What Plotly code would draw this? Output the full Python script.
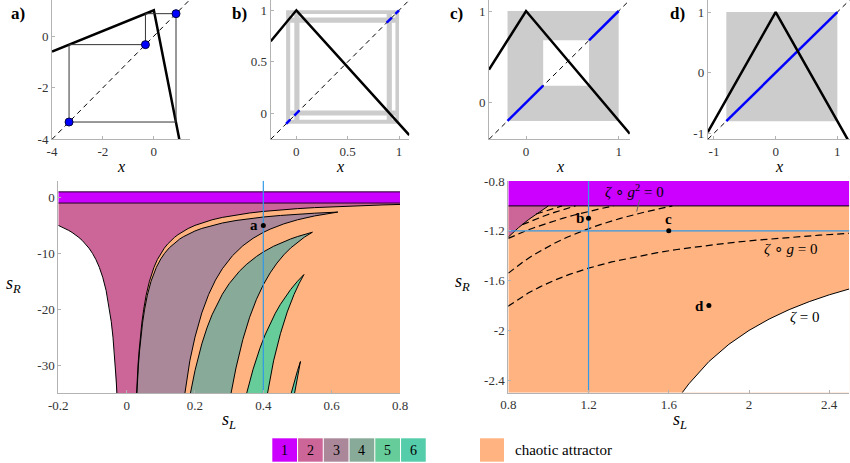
import plotly.graph_objects as go

SERIF = "Liberation Serif, Times New Roman, serif"
C_REG = ['#cc00ff', '#cc6699', '#aa8899', '#88aa99', '#66cc99', '#55ccaa']
C_CHAOS = '#ffb380'
C_GRAY = '#cccccc'
C_BLUE = '#0000ff'
C_LBLUE = '#3399e6'
AXC = '#b3b3b3'

# ---------------- top panels: maps ----------------
a_range = [-4, 1.4]
a_map_x = [-4, 0, 1.0]
a_map_y = [-0.6, 1.0, -4.0]
a_orbit = [-3.33, -0.33, 0.87]
a_ticks = [-4, -2, 0]

b_range = [-0.25, 1.1]
b_map_x = [-0.25, 0, 1.1]
b_map_y = [0.7, 1.0, -0.21]
b_bands = [[-0.10, -0.06], [-0.02, 0.03], [0.88, 0.93], [0.965, 1.0]]
b_ticks = [0, 0.5, 1]

c_range = [-0.4, 1.12]
c_map_x = [-0.4, 0, 1.12]
c_map_y = [0.36, 1.0, -0.34]
c_bands = [[-0.2, 0.185], [0.68, 1.0]]
c_ticks = [0, 1]

d_range = [-1.1, 1.2]
d_map_x = [-1.1, 0, 1.2]
d_map_y = [-0.98, 1.0, -1.16]
d_bands = [[-0.8, 1.0]]
d_ticks = [-1, 0, 1]

# ---------------- bottom-left: regions in (s_L, s_R) ----------------
L_xrange = [-0.2, 0.8]
L_yrange = [-35, 3]
L_xticks = [-0.2, 0, 0.2, 0.4, 0.6, 0.8]
L_yticks = [-30, -20, -10, 0]

W_sL = [-0.2, -0.19, -0.18, -0.17, -0.16, -0.15, -0.14, -0.13, -0.12, -0.11, -0.10, -0.09, -0.08,
        -0.07, -0.06, -0.05, -0.045, -0.04, -0.036, -0.0333, -0.0308, -0.0286, -0.025]
W_sR = [-5, -5.263, -5.556, -5.882, -6.25, -6.667, -7.143, -7.692, -8.333, -9.091, -10, -11.11, -12.5,
        -14.29, -16.67, -20, -22.22, -25, -27.78, -30, -32.5, -35, -40]

C2_sL = [0.025, 0.0286, 0.0308, 0.0333, 0.0364, 0.04, 0.0444, 0.05, 0.0571, 0.0667, 0.08, 0.09, 0.1,
         0.11, 0.12, 0.13, 0.14, 0.15, 0.165, 0.18, 0.2, 0.22, 0.25, 0.28, 0.32, 0.36, 0.4, 0.45,
         0.5, 0.55, 0.6, 0.65, 0.7, 0.75, 0.8]
C2_sR = [-40, -35, -32.5, -30, -27.5, -25, -22.5, -20, -17.5, -15, -12.5, -11.11, -10,
         -9.091, -8.333, -7.692, -7.143, -6.667, -6.061, -5.556, -5, -4.545, -4, -3.571, -3.125, -2.778, -2.5, -2.222,
         -2, -1.818, -1.667, -1.538, -1.429, -1.333, -1.25]

U3_sL = [0.0256, 0.0294, 0.0317, 0.0345, 0.0377, 0.0417, 0.0465, 0.0526, 0.0606, 0.0714, 0.087, 0.1, 0.111,
         0.125, 0.143, 0.155, 0.167, 0.18, 0.2, 0.22, 0.25, 0.28, 0.32, 0.36, 0.4, 0.45, 0.5, 0.55, 0.618]
U3_sR = [-40, -35, -32.5, -30, -27.5, -25, -22.5, -20, -17.5, -15, -12.5, -11, -10,
         -9, -8, -7.452, -7, -6.556, -6, -5.545, -5, -4.571, -4.125, -3.778, -3.5, -3.222, -3, -2.818, -2.618]
L3_sL = [0.618, 0.58, 0.55, 0.5, 0.46, 0.42, 0.4, 0.37, 0.34, 0.31, 0.28, 0.26, 0.24, 0.22, 0.2, 0.185, 0.169, 0.158]
L3_sR = [-2.618, -2.973, -3.306, -4, -4.726, -5.669, -6.25, -7.305, -8.651, -10.41, -12.76, -14.79, -17.36,
         -20.66, -25, -29.22, -35.01, -40.06]

U4_sL = [0.175, 0.1868, 0.2, 0.21, 0.22, 0.235, 0.25, 0.28, 0.3, 0.33, 0.35, 0.38, 0.4, 0.43, 0.45, 0.48, 0.5, 0.52, 0.5437]
U4_sR = [-39.37, -35, -31, -28.44, -26.21, -23.36, -21, -17.33, -15.44, -13.21, -12.02, -10.56, -9.75, -8.734,
         -8.16, -7.424, -7.0, -6.621, -6.22]
L4_sL = [0.5437, 0.52, 0.5, 0.48, 0.46, 0.44, 0.42, 0.4, 0.38, 0.36, 0.34, 0.32, 0.3057, 0.295, 0.29]
L4_sR = [-6.22, -7.112, -8, -9.042, -10.27, -11.74, -13.5, -15.63, -18.22, -21.43, -25.44, -30.52, -35.0, -38.95, -41.0]

U5_sL = [0.34, 0.351, 0.37, 0.39, 0.405, 0.42, 0.435, 0.45, 0.465, 0.48, 0.5, 0.5188]
U5_sR = [-38.03, -35.1, -30.75, -27.0, -24.62, -22.55, -20.73, -19.13, -17.72, -16.47, -15.0, -13.8]
L5_sL = [0.5188, 0.505, 0.49, 0.47, 0.45, 0.43, 0.411, 0.4]
L5_sR = [-13.8, -15.37, -17.35, -20.49, -24.39, -29.25, -35.05, -39.06]

U6_sL = [0.475, 0.481, 0.49, 0.5, 0.5087]
U6_sR = [-36.51, -35.07, -33.05, -31, -29.36]
L6_sL = [0.5087, 0.5, 0.491, 0.487]
L6_sR = [-29.35, -32, -35.06, -36.5]

pt_a = [0.4, -5]

# ---------------- bottom-right ----------------
R_xrange = [0.8, 2.5]
R_yrange = [-2.5, -0.8]
R_xticks = [0.8, 1.2, 1.6, 2, 2.4]
R_yticks = [-2.4, -2, -1.6, -1.2, -0.8]

C2r_sL = [1.0, 0.95, 0.9, 0.85, 0.8]
C2r_sR = [-1.0, -1.053, -1.111, -1.176, -1.25]

Z0_sL = [1.667, 1.7, 1.8, 1.9, 2.0, 2.1, 2.2, 2.3, 2.4, 2.5]
Z0_sR = [-2.5, -2.429, -2.25, -2.111, -2.0, -1.909, -1.833, -1.769, -1.714, -1.667]

Zg1_sL = [0.7986, 0.8485, 0.899, 0.958, 1.0256, 1.105, 1.2, 1.315, 1.458, 1.544, 1.641, 1.7535, 1.884, 2.038, 2.222, 2.351, 2.498]
Zg1_sR = [-1.806, -1.75, -1.7, -1.65, -1.6, -1.55, -1.5, -1.45, -1.4, -1.375, -1.35, -1.325, -1.3, -1.275, -1.25, -1.235, -1.22]
Zg2_sL = [0.8005, 0.8311, 0.8729, 0.9194, 0.9713, 1.0298, 1.096, 1.1715, 1.258, 1.359, 1.478, 1.618]
Zg2_sR = [-1.54, -1.5, -1.45, -1.4, -1.35, -1.3, -1.25, -1.2, -1.15, -1.1, -1.05, -1.0]
Zg3_sL = [0.8, 0.815, 0.85, 0.8875, 0.928, 0.9716, 1.018, 1.07, 1.1255, 1.186, 1.252, 1.3247]
Zg3_sR = [-1.261, -1.25, -1.225, -1.2, -1.175, -1.15, -1.125, -1.1, -1.075, -1.05, -1.025, -1.0]
Zg4_sL = [0.8695, 0.907, 0.9459, 0.988, 1.0335, 1.082, 1.1347]
Zg4_sR = [-1.1505, -1.125, -1.1, -1.075, -1.05, -1.025, -1.0]
Zg5_sL = [0.9386, 0.9668, 1.016, 1.068]
Zg5_sR = [-1.0654, -1.05, -1.025, -1.0]

pt_b = [1.2, -1.1]
pt_c = [1.6, -1.2]
pt_d = [1.8, -1.8]

legend_labels = ['1', '2', '3', '4', '5', '6']
legend_chaos = 'chaotic attractor'

# ---------------- figure ----------------
fig = go.Figure()
W, H = 850, 463


def px_x(p):
    return p / W


def px_y(p):
    return 1 - p / H


def add(x, y, ax, **kw):
    n = '' if ax == 1 else str(ax)
    kw.setdefault('mode', 'lines')
    fig.add_trace(go.Scatter(x=x, y=y, xaxis='x' + n, yaxis='y' + n, hoverinfo='skip', **kw))


def rect(x0, x1, y0, y1):
    return [x0, x1, x1, x0, x0], [y0, y0, y1, y1, y0]


def top_panel(ax, rng, mx, my, bands):
    if bands:
        h0, h1 = bands[0][0], bands[-1][1]
        gx, gy = [], []
        for lo, hi in bands:
            rx, ry = rect(lo, hi, h0, h1)
            gx += rx + [None]
            gy += ry + [None]
            rx, ry = rect(h0, h1, lo, hi)
            gx += rx + [None]
            gy += ry + [None]
        add(gx, gy, ax, fill='toself', fillcolor=C_GRAY, line=dict(width=0))
    add([rng[0], rng[1]], [rng[0], rng[1]], ax, line=dict(color='black', width=1, dash='5px,4px'))
    if bands:
        bx, by = [], []
        for lo, hi in bands:
            bx += [lo, hi, None]
            by += [lo, hi, None]
        add(bx, by, ax, line=dict(color=C_BLUE, width=2.5))
    add(mx, my, ax, line=dict(color='black', width=2.5))


# panel a
top_panel(1, a_range, a_map_x, a_map_y, None)
o = a_orbit
cx = [o[0], o[0], o[1], o[1], o[2], o[2], o[0]]
cy = [o[0], o[1], o[1], o[2], o[2], o[0], o[0]]
add(cx, cy, 1, line=dict(color='#333333', width=1))
add(a_orbit, a_orbit, 1, mode='markers', marker=dict(color=C_BLUE, size=8, line=dict(color='#000044', width=1)))
top_panel(2, b_range, b_map_x, b_map_y, b_bands)
top_panel(3, c_range, c_map_x, c_map_y, c_bands)
top_panel(4, d_range, d_map_x, d_map_y, d_bands)

# bottom-left
ax = 5
x0, x1 = L_xrange
rx, ry = rect(x0, x1, -1, 1)
add(rx, ry, ax, fill='toself', fillcolor=C_REG[0], line=dict(width=0))
rx, ry = rect(0, x1, -40, -1)
add(rx, ry, ax, fill='toself', fillcolor=C_CHAOS, line=dict(width=0))
pk_x = [x0] + W_sL + C2_sL + [x1]
pk_y = [-1] + W_sR + C2_sR + [-1]
add(pk_x, pk_y, ax, fill='toself', fillcolor=C_REG[1], line=dict(width=0))
for ux, uy, lx, ly, col in [(U3_sL, U3_sR, L3_sL, L3_sR, C_REG[2]),
                            (U4_sL, U4_sR, L4_sL, L4_sR, C_REG[3]),
                            (U5_sL, U5_sR, L5_sL, L5_sR, C_REG[4]),
                            (U6_sL, U6_sR, L6_sL, L6_sR, C_REG[5])]:
    add(ux + lx, uy + ly, ax, fill='toself', fillcolor=col, line=dict(width=0))
    add(ux + lx, uy + ly, ax, line=dict(color='black', width=1))
add(W_sL, W_sR, ax, line=dict(color='black', width=1))
add(C2_sL, C2_sR, ax, line=dict(color='black', width=1))
add([x0, x1, None, x0, x1], [1, 1, None, -1, -1], ax, line=dict(color='#220022', width=1))
add([pt_a[0], pt_a[0]], L_yrange, ax, line=dict(color=C_LBLUE, width=1.2))
add([pt_a[0]], [pt_a[1]], ax, mode='markers', marker=dict(color='black', size=5))

# bottom-right
ax = 6
x0, x1 = R_xrange
rx, ry = rect(x0, x1, R_yrange[0], -1)
add(rx, ry, ax, fill='toself', fillcolor=C_CHAOS, line=dict(width=0))
rx, ry = rect(x0, x1, -1, R_yrange[1])
add(rx, ry, ax, fill='toself', fillcolor=C_REG[0], line=dict(width=0))
add([x0, C2r_sL[0]] + C2r_sL, [-1, -1] + C2r_sR, ax, fill='toself', fillcolor=C_REG[1], line=dict(width=0))
add(Z0_sL + [x1], Z0_sR + [R_yrange[0]], ax, fill='toself', fillcolor='white', line=dict(width=0))
add(C2r_sL, C2r_sR, ax, line=dict(color='black', width=1))
add(Z0_sL, Z0_sR, ax, line=dict(color='black', width=1))
add([x0, x1], [-1, -1], ax, line=dict(color='black', width=1))
for zx, zy in [(Zg1_sL, Zg1_sR), (Zg2_sL, Zg2_sR), (Zg3_sL, Zg3_sR), (Zg4_sL, Zg4_sR), (Zg5_sL, Zg5_sR)]:
    add(zx, zy, ax, line=dict(color='black', width=1.2, dash='7px,4px'))
add([pt_b[0], pt_b[0]], R_yrange, ax, line=dict(color=C_LBLUE, width=1.2))
add(R_xrange, [pt_c[1], pt_c[1]], ax, line=dict(color=C_LBLUE, width=1.2))
add([pt_b[0], pt_c[0], pt_d[0]], [pt_b[1], pt_c[1], pt_d[1]], ax, mode='markers',
    marker=dict(color='black', size=5))

# ---------------- axes ----------------
tickfont = dict(family=SERIF, size=13, color='#333333')


def axis(rng, dom, ticks, anchor):
    return dict(range=rng, domain=dom, tickvals=ticks, ticktext=['%g' % t for t in ticks],
                showline=True, linecolor=AXC, linewidth=1, ticks='inside', ticklen=3, tickcolor=AXC,
                showgrid=False, zeroline=False, tickfont=tickfont, fixedrange=True, anchor=anchor,
                automargin=False)


top_y = [px_y(139.3), 1.0]
lay = {}
specs = [
    (1, a_range, a_ticks, [px_x(52), px_x(189.5)], top_y),
    (2, b_range, b_ticks, [px_x(270.7), px_x(409.3)], top_y),
    (3, c_range, c_ticks, [px_x(489), px_x(629.8)], top_y),
    (4, d_range, d_ticks, [px_x(707.8), px_x(849.7)], top_y),
]
for i, rng, tk, xd, yd in specs:
    n = '' if i == 1 else str(i)
    lay['xaxis' + n] = axis(rng, xd, tk, 'y' + n)
    lay['yaxis' + n] = axis(rng, yd, tk, 'x' + n)
lay['xaxis5'] = axis(L_xrange, [px_x(58.3), px_x(400)], L_xticks, 'y5')
lay['yaxis5'] = axis(L_yrange, [px_y(393), px_y(180.7)], L_yticks, 'x5')
lay['xaxis6'] = axis(R_xrange, [px_x(508.3), px_x(849.3)], R_xticks, 'y6')
lay['yaxis6'] = axis(R_yrange, [px_y(392.7), px_y(181)], R_yticks, 'x6')

ann = []


def pann(text, x, y, size=15, **kw):
    d = dict(text=text, x=px_x(x), y=px_y(y), xref='paper', yref='paper', showarrow=False,
             xanchor='center', yanchor='middle',
             font=dict(family=SERIF, size=size, color='black'))
    d.update(kw)
    ann.append(d)


for lab, x in [('a)', 18), ('b)', 239), ('c)', 456), ('d)', 677)]:
    pann('<b>%s</b>' % lab, x, 13, size=17)
for x in [121, 340, 559.5, 779]:
    pann('<i>x</i>', x, 166, size=16)
pann('<i>s</i><sub><i>L</i></sub>', 229, 420, size=18)
pann('<i>s</i><sub><i>L</i></sub>', 680, 420, size=18)
pann('<i>s</i><sub><i>R</i></sub>', 13, 284, size=18)
pann('<i>s</i><sub><i>R</i></sub>', 462, 282, size=18)


def dann(text, x, y, ax, size=15, **kw):
    d = dict(text=text, x=x, y=y, xref='x%d' % ax, yref='y%d' % ax, showarrow=False,
             xanchor='center', yanchor='middle',
             font=dict(family=SERIF, size=size, color='black'))
    d.update(kw)
    ann.append(d)


dann('<b>a</b>', pt_a[0], pt_a[1], 5, xanchor='right', xshift=-3)
dann('<b>b</b>', pt_b[0], pt_b[1], 6, xanchor='right', xshift=-3)
dann('<b>c</b>', pt_c[0], pt_c[1], 6, yanchor='bottom', yshift=2)
dann('<b>d</b>', pt_d[0], pt_d[1], 6, xanchor='right', xshift=-3)
dann('<i>ζ</i> ∘ <i>g</i><sup>2</sup> = 0', 1.43, -0.882, 6, size=15)
dann('<i>ζ</i> ∘ <i>g</i> = 0', 2.21, -1.345, 6, size=15)
dann('<i>ζ</i> = 0', 2.28, -1.893, 6, size=15)
ann.append(dict(x=1.44, y=-1.046, xref='x6', yref='y6', ax=1.456, ay=-0.94, axref='x6', ayref='y6',
                text='', showarrow=True, arrowhead=0, arrowwidth=1, arrowcolor='#666666'))

# legend (colour key)
shapes = []
for i, lab in enumerate(legend_labels):
    xl = 272.3 + i * 25.75
    shapes.append(dict(type='rect', xref='paper', yref='paper', x0=px_x(xl), x1=px_x(xl + 24.7),
                       y0=px_y(461.7), y1=px_y(438.3), fillcolor=C_REG[i], line=dict(width=0)))
    pann(lab, xl + 12.3, 450, size=14)
shapes.append(dict(type='rect', xref='paper', yref='paper', x0=px_x(480), x1=px_x(504),
                   y0=px_y(461.7), y1=px_y(438.3), fillcolor=C_CHAOS, line=dict(width=0)))
pann(legend_chaos, 513, 450, size=15, xanchor='left')

fig.update_layout(width=W, height=H, margin=dict(l=0, r=0, t=0, b=0, autoexpand=False),
                  plot_bgcolor='white', paper_bgcolor='white', showlegend=False,
                  annotations=ann, shapes=shapes, **lay)
fig.write_html("out.html", config={'displayModeBar': False},
               post_script="document.body.style.margin='0';document.body.style.overflow='hidden';")
